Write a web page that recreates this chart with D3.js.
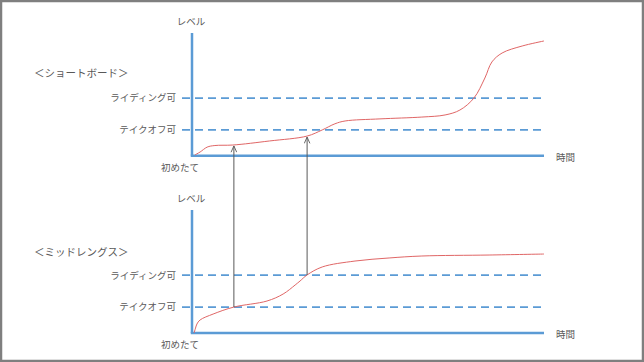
<!DOCTYPE html>
<html>
<head>
<meta charset="utf-8">
<script src="https://cdn.jsdelivr.net/npm/d3@7/dist/d3.min.js"></script>
<style>
  html, body { margin: 0; padding: 0; background: #fff; }
  svg { display: block; }
  text { font-family: "Noto Sans CJK JP", "Noto Sans", sans-serif; fill: #595959; }
</style>
</head>
<body>
<svg id="chart" width="644" height="362"></svg>
<script>
// Skill level over time for two board types (level 0–100, time 0–100)
const panelTitles = ["＜ショートボード＞", "＜ミッドレングス＞"];
const levelLabels = ["ライディング可", "テイクオフ可"];
const levelValues = [47, 21];          // riding, take-off thresholds
const startLabel = "初めたて";
const xAxisLabel = "時間";
const yAxisLabel = "レベル";

const shortboardTime  = [0.8, 2.3, 4.3, 6.5, 11.6, 22, 32.7, 37, 40.6, 43.5, 53.4, 65.3, 71.9, 76.1, 80.1, 83.2, 85.2, 88.1, 93.8, 100];
const shortboardLevel = [0.6, 3, 7, 8.3, 8.7, 12, 16, 21, 26, 28.3, 30, 31.5, 33.2, 37.2, 47, 63.3, 76.4, 83.7, 89.4, 93.5];

const midlengthTime  = [0.6, 1, 1.4, 2.3, 6, 11.9, 21.3, 25.9, 29.3, 30.7, 32.7, 37, 46.3, 56, 65.3, 84.4, 100];
const midlengthLevel = [0, 4, 7.3, 10.6, 15.4, 21.1, 26, 31.7, 39, 42.3, 47.2, 53.7, 58.5, 61, 62.6, 63.4, 64.2];

// times where the mid-length reaches each threshold
const arrowTimes = [11.9, 32.7];

const svg = d3.select("#chart");

// outer frame
svg.append("rect").attr("x", 1).attr("y", 1).attr("width", 642).attr("height", 360)
  .attr("fill", "none").attr("stroke", "#7f7f7f").attr("stroke-width", 2.5);

const x = d3.scaleLinear().domain([0, 100]).range([192, 544]);
const panels = [
  { y: d3.scaleLinear().domain([0, 100]).range([155.7, 33]), time: shortboardTime, level: shortboardLevel, titleY: 73 },
  { y: d3.scaleLinear().domain([0, 100]).range([333, 210]), time: midlengthTime, level: midlengthLevel, titleY: 252 }
];

const defs = svg.append("defs");
defs.append("marker").attr("id", "arrow").attr("viewBox", "0 0 10 10")
  .attr("refX", 10).attr("refY", 5).attr("markerWidth", 7).attr("markerHeight", 7)
  .attr("orient", "auto").attr("markerUnits", "userSpaceOnUse")
  .append("path").attr("d", "M1,1 L10,5 L1,9").attr("fill", "none")
  .attr("stroke", "#595959").attr("stroke-width", 1.3);

const axisColor = "#5b9bd5";

panels.forEach((p, i) => {
  const g = svg.append("g");
  const y = p.y;

  // threshold dashed lines and labels
  levelValues.forEach((v, k) => {
    g.append("line").attr("x1", 182).attr("x2", x(100)).attr("y1", y(v)).attr("y2", y(v))
      .attr("stroke", axisColor).attr("stroke-width", 1.8).attr("stroke-dasharray", "8,5");
    g.append("text").attr("x", 176).attr("y", y(v)).attr("dy", "0.35em")
      .attr("text-anchor", "end").attr("font-size", 9.5).text(levelLabels[k]);
  });

  // axes
  g.append("line").attr("x1", x(0)).attr("x2", x(0)).attr("y1", y(100)).attr("y2", y(0))
    .attr("stroke", axisColor).attr("stroke-width", 2.5);
  g.append("line").attr("x1", x(0) - 1.25).attr("x2", x(100)).attr("y1", y(0)).attr("y2", y(0))
    .attr("stroke", axisColor).attr("stroke-width", 2.5);

  // curve
  const pts = p.time.map((t, k) => [t, p.level[k]]);
  g.append("path").datum(pts)
    .attr("d", d3.line().x(d => x(d[0])).y(d => y(d[1])).curve(d3.curveCatmullRom.alpha(0.5)))
    .attr("fill", "none").attr("stroke", "#e06666").attr("stroke-width", 1);

  // text labels
  g.append("text").attr("x", x(0) - 1).attr("y", y(100) - 8).attr("text-anchor", "middle")
    .attr("font-size", 9.5).text(yAxisLabel);
  g.append("text").attr("x", 34).attr("y", p.titleY).attr("dy", "0.35em")
    .attr("font-size", 10.5).text(panelTitles[i]);
  g.append("text").attr("x", 180).attr("y", y(0) + 12).attr("dy", "0.35em")
    .attr("text-anchor", "middle").attr("font-size", 9.5).text(startLabel);
  g.append("text").attr("x", x(100) + 12).attr("y", y(0) + 1.5).attr("dy", "0.35em")
    .attr("font-size", 9.5).text(xAxisLabel);
});

// arrows from mid-length thresholds up to the shortboard curve
const sbCurve = d3.scaleLinear().domain(shortboardTime).range(shortboardLevel);
const mlCurve = d3.scaleLinear().domain(midlengthTime).range(midlengthLevel);
arrowTimes.forEach(t => {
  svg.append("line").attr("x1", x(t)).attr("x2", x(t))
    .attr("y1", panels[1].y(mlCurve(t))).attr("y2", panels[0].y(sbCurve(t)) + 1)
    .attr("stroke", "#595959").attr("stroke-width", 1).attr("marker-end", "url(#arrow)");
});
</script>
</body>
</html>
